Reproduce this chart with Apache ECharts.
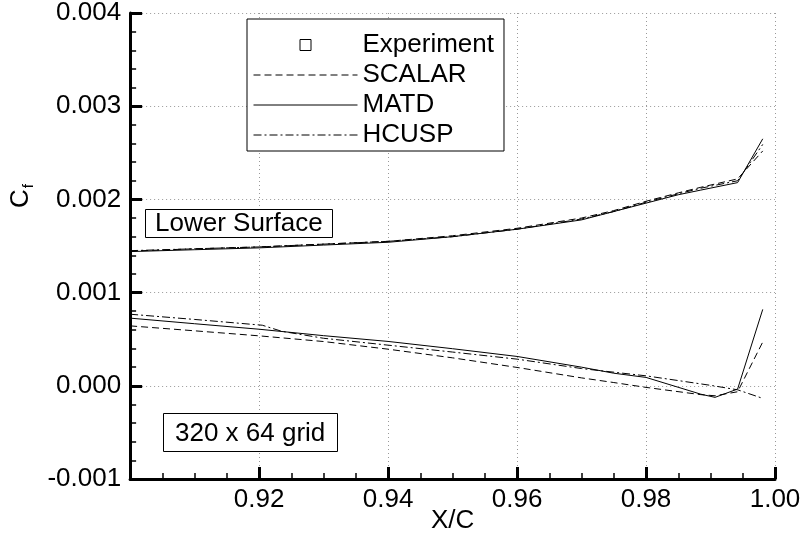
<!DOCTYPE html>
<html>
<head>
<meta charset="utf-8">
<style>
  html, body { margin: 0; padding: 0; background: #fff; }
  #chart { width: 804px; height: 548px; }
</style>
<script src="https://cdn.jsdelivr.net/npm/echarts@6.0.0/dist/echarts.min.js"></script>
</head>
<body>
<div id="chart"></div>
<script>
// ---------- data ----------
const xRange = [0.90, 1.00];
const xTickStep = 0.02;
const yRange = [-0.001, 0.004];
const yTickStep = 0.001;

const experimentData = []; // no experimental points fall inside this window

// upper branch (lower surface, Cf ~ 0.0014 .. 0.0027)
const xUpper      = [0.900, 0.910, 0.920, 0.930, 0.940, 0.950, 0.960, 0.970, 0.975, 0.980, 0.985, 0.9885, 0.9942, 0.9981];
const matdUpper   = [0.001440, 0.001460, 0.001480, 0.001510, 0.001540, 0.001600, 0.001680, 0.001780, 0.001870, 0.001960, 0.002050, 0.002100, 0.002180, 0.002650];
const scalarUpper = [0.001445, 0.001470, 0.001490, 0.001520, 0.001550, 0.001610, 0.001690, 0.001800, 0.001880, 0.001980, 0.002070, 0.002130, 0.002220, 0.002520];
const hcuspUpper  = [0.001450, 0.001470, 0.001490, 0.001520, 0.001550, 0.001600, 0.001680, 0.001790, 0.001870, 0.001970, 0.002060, 0.002120, 0.002200, 0.002590];

// lower branch (Cf ~ -0.00015 .. 0.0008)
const xLowerMatd   = [0.900, 0.910, 0.920, 0.930, 0.940, 0.950, 0.960, 0.970, 0.975, 0.980, 0.9885, 0.9907, 0.9942, 0.9981];
const matdLower    = [0.000726, 0.000666, 0.000607, 0.000538, 0.000476, 0.000398, 0.000315, 0.000200, 0.000135, 0.000090, -0.000090, -0.000124, -0.000035, 0.000820];
const xLowerScalar = [0.900, 0.910, 0.920, 0.930, 0.940, 0.950, 0.960, 0.970, 0.975, 0.980, 0.9885, 0.9907, 0.9942, 0.9981];
const scalarLower  = [0.000643, 0.000590, 0.000536, 0.000475, 0.000393, 0.000300, 0.000197, 0.000085, 0.000035, -0.000017, -0.000095, -0.000107, -0.000064, 0.000470];
const xLowerHcusp  = [0.900, 0.910, 0.9205, 0.9235, 0.930, 0.940, 0.950, 0.960, 0.970, 0.980, 0.990, 0.9942, 0.9981];
const hcuspLower   = [0.000768, 0.000712, 0.000650, 0.000585, 0.000510, 0.000436, 0.000362, 0.000286, 0.000185, 0.000107, 0.000005, -0.000043, -0.000135];

// ---------- chart ----------
const FONT = '"Liberation Sans", Arial, Helvetica, sans-serif';
const zip = (xs, ys) => xs.map((x, i) => [x, ys[i]]);

const styles = {
  SCALAR: [7, 4],
  MATD: 'solid',
  HCUSP: [8, 3, 2, 3]
};

function lineSeries(name, xs, ys) {
  return {
    name: name,
    type: 'line',
    xAxisIndex: 0,
    yAxisIndex: 0,
    data: zip(xs, ys),
    symbol: 'none',
    showSymbol: false,
    smooth: false,
    lineStyle: { color: '#000', width: 1, type: styles[name] },
    itemStyle: { color: '#000' },
    emphasis: { disabled: true },
    z: 3
  };
}

const hiddenSymbol = { color: 'rgba(0,0,0,0)', borderWidth: 0, opacity: 0 };

const chart = echarts.init(document.getElementById('chart'), null, { renderer: 'canvas' });

const option = {
  animation: false,
  backgroundColor: '#fff',
  textStyle: { fontFamily: FONT },
  grid: { left: 126, right: 29, top: 13, bottom: 69, containLabel: false },
  title: [
    {
      text: 'Lower Surface',
      left: 145, top: 209,
      padding: [2, 10, 1, 10],
      borderColor: '#000', borderWidth: 1, backgroundColor: '#fff',
      textStyle: { fontSize: 26, fontWeight: 'normal', color: '#000', fontFamily: FONT }
    },
    {
      text: '320 x 64 grid',
      left: 163, top: 413,
      padding: [8, 12, 5, 12],
      borderColor: '#000', borderWidth: 1, backgroundColor: '#fff',
      textStyle: { fontSize: 26, fontWeight: 'normal', color: '#000', fontFamily: FONT }
    }
  ],
  legend: {
    orient: 'vertical',
    left: 247, top: 19,
    padding: [13, 10, 3, 6],
    itemGap: 4,
    itemWidth: 104,
    itemHeight: 24,
    borderColor: '#000', borderWidth: 1, backgroundColor: '#fff',
    selectedMode: false,
    textStyle: { fontSize: 26, color: '#000', fontFamily: FONT },
    lineStyle: { width: 1 },
    data: [
      { name: 'Experiment', icon: 'path://M0,0M104,24M46.5,6.5h11v11h-11z',
        itemStyle: { color: '#fff', borderColor: '#000', borderWidth: 1, opacity: 1 } },
      { name: 'SCALAR', itemStyle: hiddenSymbol },
      { name: 'MATD', itemStyle: hiddenSymbol },
      { name: 'HCUSP', itemStyle: hiddenSymbol }
    ]
  },
  xAxis: {
    type: 'value',
    position: 'bottom',
    min: xRange[0], max: xRange[1], interval: xTickStep,
    name: 'X/C', nameLocation: 'middle', nameGap: 29, nameMoveOverlap: false,
    nameTextStyle: { fontSize: 26, color: '#000', fontFamily: FONT },
    // sit "on zero" of a hidden helper y axis whose zero is the bottom edge
    axisLine: { show: true, onZero: true, onZeroAxisIndex: 1,
                lineStyle: { color: '#000', width: 3 } },
    axisTick: { show: true, inside: true, length: 12, lineStyle: { color: '#000', width: 3 } },
    minorTick: { show: true, splitNumber: 4, length: 6, lineStyle: { color: '#000', width: 1.5 } },
    axisLabel: { show: true, showMinLabel: false, margin: 8,
                 fontSize: 26, color: '#000', fontFamily: FONT,
                 formatter: v => v.toFixed(2) },
    splitLine: { show: true, showMinLine: false,
                 lineStyle: { color: '#999', width: 1, type: [1, 3] } }
  },
  yAxis: [
    {
      type: 'value',
      min: yRange[0], max: yRange[1], interval: yTickStep,
      name: '{c|C}{f|f}', nameLocation: 'middle', nameRotate: 90, nameGap: 92,
      nameTextStyle: {
        color: '#000', fontFamily: FONT, padding: [0, 0, 0, 100],
        rich: {
          c: { fontSize: 26, color: '#000', fontFamily: FONT },
          f: { fontSize: 15, color: '#000', fontFamily: FONT, padding: [16, 0, 0, 1] }
        }
      },
      axisLine: { show: true, onZero: false, lineStyle: { color: '#000', width: 3 } },
      axisTick: { show: true, inside: true, length: 12, lineStyle: { color: '#000', width: 3 } },
      minorTick: { show: true, splitNumber: 5, length: 6, lineStyle: { color: '#000', width: 1.5 } },
      axisLabel: { margin: 9, fontSize: 26, color: '#000', fontFamily: FONT,
                   formatter: v => v.toFixed(3) },
      splitLine: { show: true, showMinLine: false,
                   lineStyle: { color: '#999', width: 1, type: [1, 3] } }
    },
    {
      // hidden helper axis: its 0 is at the bottom edge of the plot
      type: 'value',
      position: 'right',
      min: 0, max: 1,
      show: false
    }
  ],
  series: [
    {
      name: 'Experiment', type: 'scatter', data: experimentData,
      xAxisIndex: 0, yAxisIndex: 0,
      symbol: 'rect', symbolSize: 11,
      itemStyle: { color: '#fff', borderColor: '#000', borderWidth: 1 }
    },
    lineSeries('SCALAR', xUpper, scalarUpper),
    lineSeries('SCALAR', xLowerScalar, scalarLower),
    lineSeries('MATD', xUpper, matdUpper),
    lineSeries('MATD', xLowerMatd, matdLower),
    lineSeries('HCUSP', xUpper, hcuspUpper),
    lineSeries('HCUSP', xLowerHcusp, hcuspLower)
  ]
};

chart.setOption(option);
</script>
</body>
</html>
